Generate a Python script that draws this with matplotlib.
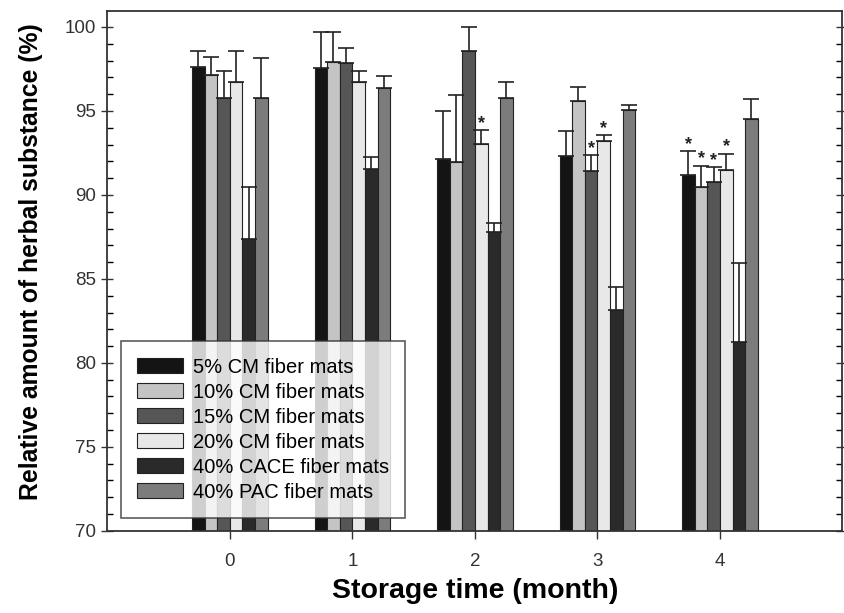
import matplotlib
matplotlib.use("Agg")
import matplotlib.pyplot as plt
import numpy as np
from matplotlib.ticker import MultipleLocator

plt.rcParams['font.family'] = ['Liberation Sans', 'DejaVu Sans']

months = [0, 1, 2, 3, 4]
labels = ["5% CM fiber mats", "10% CM fiber mats", "15% CM fiber mats",
          "20% CM fiber mats", "40% CACE fiber mats", "40% PAC fiber mats"]

# mean relative amount (%) per month
cm5 = [97.6, 97.55, 92.15, 92.3, 91.2]
cm10 = [97.15, 97.9, 91.95, 95.6, 90.5]
cm15 = [95.8, 97.85, 98.6, 91.45, 90.75]
cm20 = [96.7, 96.7, 93.05, 93.2, 91.5]
cace40 = [87.4, 91.55, 87.8, 83.15, 81.25]
pac40 = [95.8, 96.35, 95.8, 95.05, 94.5]

# upper error (SD)
cm5_err = [1.0, 2.15, 2.85, 1.5, 1.4]
cm10_err = [1.05, 1.8, 4.0, 0.85, 1.25]
cm15_err = [1.6, 0.9, 1.4, 0.9, 0.9]
cm20_err = [1.9, 0.65, 0.8, 0.35, 0.95]
cace40_err = [3.1, 0.7, 0.5, 1.35, 4.7]
pac40_err = [2.35, 0.75, 0.9, 0.3, 1.2]

# significance marks: (series index, month)
stars = [(3, 2), (2, 3), (3, 3), (0, 4), (1, 4), (2, 4), (3, 4)]

series = [cm5, cm10, cm15, cm20, cace40, pac40]
errors = [cm5_err, cm10_err, cm15_err, cm20_err, cace40_err, pac40_err]
colors = ["#141414", "#c4c4c4", "#565656", "#e8e8e8", "#2a2a2a", "#7c7c7c"]

fig, ax = plt.subplots(figsize=(8.45, 6.13), dpi=100)
fig.subplots_adjust(left=0.127, right=0.997, bottom=0.134, top=0.982)

w = 0.103
x = np.array(months, dtype=float)
for i, (vals, err, col) in enumerate(zip(series, errors, colors)):
    pos = x + (i - 2.5) * w
    ax.bar(pos, vals, width=w, color=col, edgecolor="#222222", linewidth=0.8,
           label=labels[i], zorder=2)
    ax.errorbar(pos, vals, yerr=[np.zeros(len(vals)), err], fmt="none",
                ecolor="#222222", elinewidth=1.2, capsize=6, capthick=1.2, zorder=3)

for i, m in stars:
    ax.text(m + (i - 2.5) * w, series[i][m] + errors[i][m] + 0.4, "*",
            ha="center", va="center", fontsize=13, fontweight="bold", color="#222222")

ax.set_xlim(-1, 5)
ax.set_ylim(70, 100.95)
ax.set_xticks(months)
ax.yaxis.set_major_locator(MultipleLocator(5))
ax.yaxis.set_minor_locator(MultipleLocator(1))
ax.tick_params(axis="y", which="major", direction="inout", length=9, width=1,
               labelsize=13.5, right=True, colors="#333333")
ax.tick_params(axis="y", which="minor", direction="in", length=4, width=1, right=True)
ax.tick_params(axis="x", direction="out", length=6, width=1, labelsize=13.5, pad=10,
               colors="#333333")
for s in ax.spines.values():
    s.set_linewidth(1.3)
    s.set_color("#333333")

ax.set_ylabel("Relative amount of herbal substance (%)", fontsize=17.8,
              fontweight="bold")
ax.yaxis.set_label_coords(-0.088, 0.517)
ax.set_xlabel("Storage time (month)", fontsize=20.5, fontweight="bold", labelpad=6)

leg = ax.legend(loc="lower left", bbox_to_anchor=(0.018, 0.025), fontsize=14.5,
                frameon=True, fancybox=False, edgecolor="#333333",
                handlelength=2.3, handleheight=0.8, borderpad=0.8,
                labelspacing=0.3, handletextpad=0.5, borderaxespad=0)
leg.get_frame().set_linewidth(1.2)

fig.savefig("out.png", dpi=100)
